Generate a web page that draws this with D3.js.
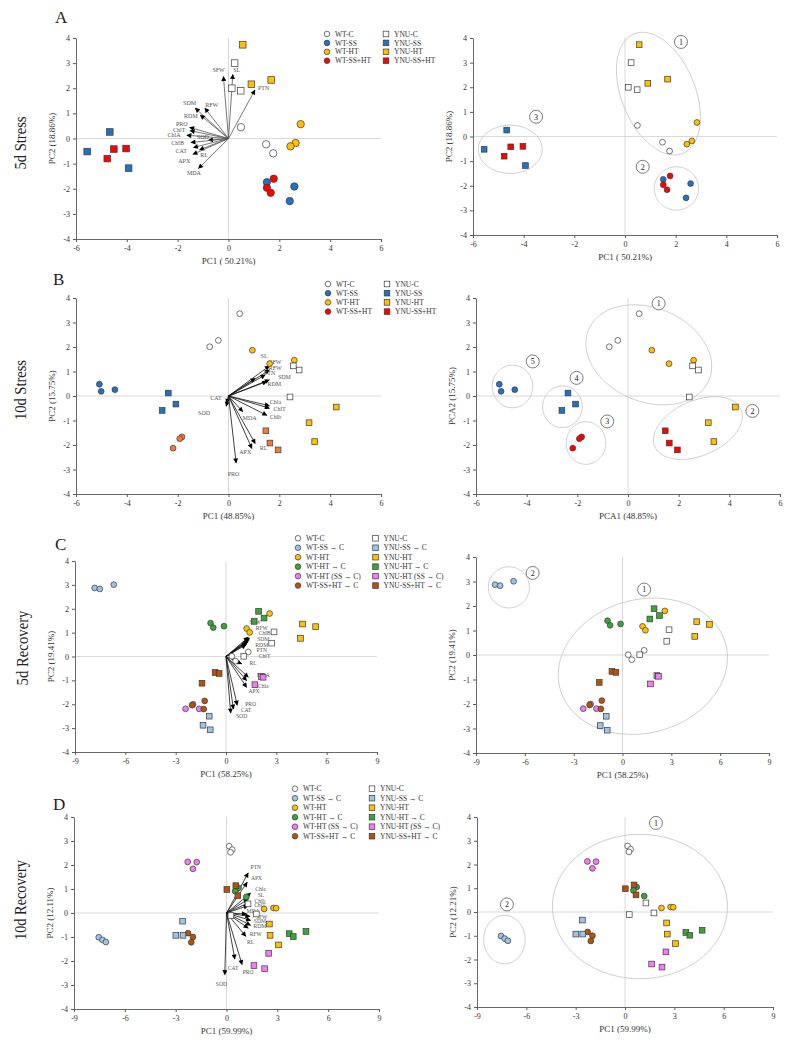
<!DOCTYPE html>
<html><head><meta charset="utf-8">
<script src="https://cdn.jsdelivr.net/npm/d3@7"></script>
<style>body{margin:0;background:#fff}svg{display:block}</style>
</head><body><svg id="c" width="790" height="1046"></svg>
<script>
// ---------------- DATA ----------------
const groupsStress = ["WT-C","WT-SS","WT-HT","WT-SS+HT","YNU-C","YNU-SS","YNU-HT","YNU-SS+HT"];
const groupsRecovery = ["WT-C","WT-SS \u2192 C","WT-HT","WT-HT \u2192 C","WT-HT (SS \u2192 C)","WT-SS+HT \u2192 C",
  "YNU-C","YNU-SS \u2192 C","YNU-HT","YNU-HT \u2192 C","YNU-HT (SS \u2192 C)","YNU-SS+HT \u2192 C"];
const xTicksStress = [-6,-4,-2,0,2,4,6];
const xTicksRecovery = [-9,-6,-3,0,3,6,9];
const yTicks = [-4,-3,-2,-1,0,1,2,3,4];
const rowLabels = ["5d Stress","10d Stress","5d Recovery","10d Recovery"];
const panelLetters = ["A","B","C","D"];

// [group, PC1, PC2]
const pointsA = [
 [0,0.49,0.45],[0,1.48,-0.23],[0,1.76,-0.59],
 [1,1.51,-1.74],[1,2.59,-1.91],[1,2.41,-2.49],
 [2,2.84,0.57],[2,2.64,-0.18],[2,2.44,-0.31],
 [3,1.78,-1.60],[3,1.51,-1.96],[3,1.66,-2.16],
 [4,0.24,3.00],[4,0.13,2.00],[4,0.48,1.90],
 [5,-4.67,0.26],[5,-5.56,-0.52],[5,-3.93,-1.18],
 [6,0.56,3.73],[6,0.90,2.16],[6,1.68,2.33],
 [7,-4.51,-0.42],[7,-4.03,-0.40],[7,-4.77,-0.80]];
const pointsB = [
 [0,0.44,3.36],[0,-0.40,2.27],[0,-0.74,2.01],
 [1,-5.08,0.48],[1,-5.01,0.19],[1,-4.47,0.26],
 [2,0.94,1.87],[2,1.62,1.32],[2,2.59,1.46],
 [3,-1.83,-1.67],[3,-1.92,-1.74],[3,-2.18,-2.13],
 [4,2.55,1.23],[4,2.78,1.06],[4,2.42,-0.04],
 [5,-2.37,0.12],[5,-2.07,-0.33],[5,-2.61,-0.59],
 [6,4.24,-0.45],[6,3.17,-1.09],[6,3.39,-1.86],
 [7,1.47,-1.42],[7,1.63,-1.92],[7,1.95,-2.20]];
const pointsC = [
 [0,0.35,0.01],[0,0.57,-0.19],[0,1.33,0.19],
 [1,-7.83,2.87],[1,-7.52,2.83],[1,-6.69,3.01],
 [2,2.60,1.80],[2,1.23,1.17],[2,1.41,1.01],
 [3,-0.92,1.40],[3,-0.76,1.21],[3,-0.12,1.27],
 [4,-2.41,-2.19],[4,-1.96,-2.00],[4,-1.60,-2.19],
 [5,-1.27,-1.86],[5,-2.02,-2.04],[5,-1.33,-2.20],
 [6,2.86,1.03],[6,2.72,0.56],[6,1.06,0.01],
 [7,-1.00,-2.50],[7,-1.37,-2.88],[7,-0.94,-3.07],
 [8,4.56,1.36],[8,5.34,1.25],[8,4.44,0.76],
 [9,1.94,1.89],[9,2.27,1.61],[9,1.68,1.47],
 [10,2.11,-0.84],[10,2.21,-0.87],[10,1.72,-1.18],
 [11,-0.65,-0.67],[11,-0.41,-0.71],[11,-1.43,-1.12]];
const pointsD = [
 [0,0.16,2.78],[0,0.34,2.64],[0,0.24,2.53],
 [1,-7.54,-1.01],[1,-7.32,-1.12],[1,-7.12,-1.21],
 [2,2.22,0.17],[2,2.77,0.21],[2,2.93,0.20],
 [3,0.71,1.05],[3,0.51,0.91],[3,1.17,0.67],
 [4,-2.29,2.13],[4,-1.76,2.12],[4,-1.98,1.84],
 [5,-2.27,-0.84],[5,-1.98,-1.00],[5,-2.08,-1.22],
 [6,1.27,0.38],[6,0.26,-0.11],[6,1.76,-0.04],
 [7,-2.59,-0.34],[7,-2.99,-0.93],[7,-2.57,-0.93],
 [8,2.53,-0.46],[8,2.57,-0.93],[8,3.07,-1.33],
 [9,3.70,-0.86],[9,3.94,-0.98],[9,4.69,-0.77],
 [10,2.49,-1.68],[10,1.62,-2.19],[10,2.25,-2.32],
 [11,0.02,0.98],[11,0.55,1.14],[11,0.67,0.72]];

// [variable, loading PC1, loading PC2, label PC1, label PC2]
const loadingsA = [
 ["SFW",-0.20,2.47,-0.39,2.73],["SL",0.17,2.55,0.32,2.75],["PTN",1.04,1.93,1.38,2.01],
 ["SDM",-1.31,1.21,-1.53,1.40],["RFW",-0.93,1.21,-0.66,1.35],["RDM",-1.11,0.93,-1.48,0.89],
 ["PRO",-1.53,0.44,-1.84,0.59],["ChlT",-1.51,0.31,-1.94,0.35],["ChlA",-1.64,0.13,-2.14,0.15],
 ["SOD",-0.79,-0.07,-1.01,0.07],["ChlB",-1.48,-0.16,-2.00,-0.16],["CAT",-1.38,-0.36,-1.86,-0.49],
 ["RL",-1.14,-0.45,-0.96,-0.65],["APX",-1.40,-0.63,-1.74,-0.89],["MDA",-1.18,-1.19,-1.36,-1.37]];
const loadingsB = [
 ["SL",1.05,0.72,1.40,1.64],["SFW",1.61,1.23,1.84,1.41],["RFW",1.61,1.06,1.84,1.13],
 ["PTN",1.44,0.86,1.62,0.93],["SDM",1.61,0.66,2.20,0.80],["RDM",1.51,0.59,1.80,0.49],
 ["Chla",1.61,-0.40,1.85,-0.23],["ChlT",1.61,-0.50,2.01,-0.53],["Chlb",1.51,-0.79,1.85,-0.87],
 ["MDA",0.56,-0.64,0.83,-0.91],["CAT",-0.07,-0.30,-0.49,-0.07],["SOD",-0.09,-0.42,-0.96,-0.67],
 ["RL",1.05,-1.94,1.38,-2.10],["APX",0.92,-2.14,0.66,-2.28],["PRO",0.30,-2.73,0.20,-3.18]];
const loadingsC = [
 ["SFW",1.33,0.81,1.73,1.46],["RFW",1.39,0.77,2.13,1.21],["ChlB",1.39,0.74,2.30,0.97],
 ["SDM",1.33,0.67,2.22,0.73],["RDM",1.27,0.60,2.13,0.49],["PTN",1.23,0.56,2.13,0.25],
 ["ChlT",1.19,0.49,2.30,0.02],["RL",0.93,-0.31,1.62,-0.26],["MDA",1.33,-0.87,2.22,-0.77],
 ["Chla",1.23,-1.01,2.22,-1.22],["APX",1.23,-1.29,1.67,-1.45],["PRO",0.67,-2.04,1.47,-1.99],
 ["CAT",0.44,-2.20,1.19,-2.26],["SOD",0.28,-2.37,0.93,-2.51]];
const loadingsD = [
 ["PTN",1.28,1.67,1.73,1.90],["APX",1.22,1.28,1.77,1.46],["Chla",1.42,0.83,2.01,1.00],
 ["SL",1.28,0.58,2.03,0.74],["Chlb",1.34,0.44,1.97,0.51],["ChlT",1.28,0.31,1.97,0.33],
 ["MDA",1.18,-0.04,1.57,0.07],["SFW",1.38,-0.14,2.07,-0.17],["SDM",1.42,-0.31,1.97,-0.35],
 ["RDM",1.42,-0.51,1.97,-0.56],["RFW",1.14,-0.97,1.73,-0.86],["RL",1.28,-0.63,1.42,-1.22],
 ["CAT",0.49,-1.92,0.39,-2.29],["PRO",0.92,-2.15,1.28,-2.46],["SOD",-0.10,-2.57,-0.30,-2.94]];

// cluster ellipses: [centre PC1, centre PC2, axis1 PC1, axis1 PC2, axis2 PC1, axis2 PC2]
const ellipsesA = [[1.32,1.74,0.96,-2.43,-1.35,-0.56],[2.03,-2.11,0.875,0,0,0.88],[-4.53,-0.52,1.26,0,0,0.98]];
const ellipsesB = [[0.82,1.68,2.38,-1.02,-0.71,-1.77],[2.76,-1.31,1.70,0.76,0.43,-1.03],
  [-1.66,-1.92,0.78,0,0,0.87],[-2.59,-0.44,0.78,0,0,0.85],[-4.56,0.39,0.80,0,0,0.87]];
const ellipsesC = [[1.25,-0.46,5.09,0.91,1.06,-2.63],[-6.98,2.76,1.26,0,0,0.84]];
const ellipsesD = [[0.91,0.23,5.32,0,0,3.04],[-7.33,-1.16,1.26,0,0,1.02]];
// cluster numbers: [label, PC1, PC2]
const clustersA = [["1",2.21,3.84],["2",0.70,-1.23],["3",-3.51,0.80]];
const clustersB = [["1",1.21,3.78],["2",4.91,-0.61],["3",-0.82,-1.04],["4",-2.03,0.74],["5",-3.76,1.41]];
const clustersC = [["1",1.33,2.67],["2",-5.52,3.35]];
const clustersD = [["1",1.88,3.75],["2",-7.18,0.32]];

const xTitles = [["PC1 ( 50.21%)","PC1 ( 50.21%)"],["PC1 (48.85%)","PCA1 (48.85%)"],["PC1 (58.25%)","PC1 (58.25%)"],["PC1 (59.99%)","PC1 (59.99%)"]];
const yTitles = [["PC2 (18.86%)","PC2 (18.86%)"],["PC2 (15.75%)","PCA2 (15.75%)"],["PC2 (19.41%)","PC2 (19.41%)"],["PC2 (12.11%)","PC2 (12.21%)"]];

// ---------------- STYLE ----------------
const FONT = "'Liberation Serif','Times New Roman',serif";
const colStress = ["#ffffff","#2272c3","#ffc000","#ff0000","#ffffff","#2272c3","#ffc000","#ff0000"];
const colStressB = ["#ffffff","#2272c3","#ffc000","#f47a3a","#ffffff","#2272c3","#ffc000","#f47a3a"];
const colRec = ["#ffffff","#9dc3e6","#ffc000","#3aa53a","#f57af5","#b4530f","#ffffff","#9dc3e6","#ffc000","#3aa53a","#f57af5","#b4530f"];

const svg = d3.select("#c");
svg.append("rect").attr("width",790).attr("height",1046).attr("fill","#fff");
const defs = svg.append("defs");
defs.append("marker").attr("id","ah").attr("viewBox","0 0 10 10").attr("refX",9).attr("refY",5)
  .attr("markerWidth",6).attr("markerHeight",5).attr("markerUnits","userSpaceOnUse").attr("orient","auto")
  .append("path").attr("d","M0,0L10,5L0,10z").attr("fill","#000");

function drawPanel(c) {
  const g = svg.append("g");
  const x = d3.scaleLinear().domain(d3.extent(c.xt)).range([c.x0, c.x1]);
  const y = d3.scaleLinear().domain(d3.extent(yTicks)).range([c.y1, c.y0]);
  g.append("line").attr("x1",x(0)).attr("x2",x(0)).attr("y1",c.y0).attr("y2",c.y1).attr("stroke","#d9d9d9").attr("stroke-width",1);
  g.append("line").attr("x1",c.x0).attr("x2",c.x1).attr("y1",y(0)).attr("y2",y(0)).attr("stroke","#d9d9d9").attr("stroke-width",1);
  const xa = g.append("g").attr("transform",`translate(0,${c.y1})`)
    .call(d3.axisBottom(x).tickValues(c.xt).tickFormat(d=>String(d)).tickSizeInner(3).tickSizeOuter(0).tickPadding(3));
  const ya = g.append("g").attr("transform",`translate(${c.x0},0)`)
    .call(d3.axisLeft(y).tickValues(yTicks).tickFormat(d=>String(d)).tickSizeInner(3).tickSizeOuter(0).tickPadding(3));
  [xa,ya].forEach(a=>{
    a.attr("font-family",FONT).attr("font-size",8);
    a.select(".domain").attr("stroke","#595959").attr("stroke-width",0.9);
    a.selectAll(".tick line").attr("stroke","#595959");
    a.selectAll(".tick text").attr("fill","#333");
  });
  g.append("text").attr("x",(c.x0+c.x1)/2).attr("y",c.y1+25).attr("text-anchor","middle")
    .attr("font-family",FONT).attr("font-size",9).attr("fill","#333").text(c.xTitle);
  g.append("text").attr("transform",`translate(${c.x0-21},${(c.y0+c.y1)/2}) rotate(-90)`).attr("text-anchor","middle")
    .attr("font-family",FONT).attr("font-size",9).attr("fill","#333").text(c.yTitle);
  if (c.ellipses) {
    const ts = d3.range(0, 101).map(i => i/100*2*Math.PI);
    const line = d3.line().x(p=>x(p[0])).y(p=>y(p[1]));
    c.ellipses.forEach(e=>{
      const pts = ts.map(t=>[e[0]+e[2]*Math.cos(t)+e[4]*Math.sin(t), e[1]+e[3]*Math.cos(t)+e[5]*Math.sin(t)]);
      g.append("path").attr("d",line(pts)).attr("fill","none").attr("stroke","#c8c8c8").attr("stroke-width",0.9);
    });
    c.clusters.forEach(k=>{
      g.append("circle").attr("cx",x(k[1])).attr("cy",y(k[2])).attr("r",6.5).attr("fill","#fff").attr("stroke","#444").attr("stroke-width",0.7);
      g.append("text").attr("x",x(k[1])).attr("y",y(k[2])).attr("dy","0.35em").attr("text-anchor","middle")
        .attr("font-family",FONT).attr("font-size",8).attr("fill","#222").text(k[0]);
    });
  }
  if (c.loadings) {
    c.loadings.forEach(l=>{
      g.append("line").attr("x1",x(0)).attr("y1",y(0)).attr("x2",x(l[1])).attr("y2",y(l[2]))
        .attr("stroke",c.arrowColor).attr("stroke-width",0.8).attr("marker-end","url(#ah)");
    });
    c.loadings.forEach(l=>{
      g.append("text").attr("x",x(l[3])).attr("y",y(l[4])).attr("dy","0.35em").attr("text-anchor","middle")
        .attr("font-family",FONT).attr("font-size",c.labelSize||6).attr("fill","#555").text(l[0]);
    });
  }
  const nHalf = c.colors.length/2;
  c.points.forEach(p=>{
    const col = c.colors[p[0]];
    if (p[0] < nHalf) {
      g.append("circle").attr("cx",x(p[1])).attr("cy",y(p[2])).attr("r",c.r)
        .attr("fill",col).attr("stroke","#3a3a3a").attr("stroke-width",0.7);
    } else {
      g.append("rect").attr("x",x(p[1])-c.s/2).attr("y",y(p[2])-c.s/2).attr("width",c.s).attr("height",c.s)
        .attr("fill",col).attr("stroke","#3a3a3a").attr("stroke-width",0.7);
    }
  });
}

function drawLegend(groups, colors, cx, sx, y0, dy) {
  const g = svg.append("g");
  const n = groups.length/2;
  groups.forEach((name,i)=>{
    const col = i < n ? 0 : 1;
    const row = i % n;
    const xx = col===0 ? cx : sx;
    const yy = y0 + row*dy;
    if (col===0) g.append("circle").attr("cx",xx).attr("cy",yy).attr("r",2.8).attr("fill",colors[i]).attr("stroke","#3a3a3a").attr("stroke-width",0.7);
    else g.append("rect").attr("x",xx-2.8).attr("y",yy-2.8).attr("width",5.6).attr("height",5.6).attr("fill",colors[i]).attr("stroke","#3a3a3a").attr("stroke-width",0.7);
    g.append("text").attr("x",xx+8).attr("y",yy).attr("dy","0.35em").attr("font-family",FONT).attr("font-size",7.5).attr("fill","#333").text(name);
  });
}

drawPanel({x0:76,x1:381,y0:38,y1:239,xt:xTicksStress,points:pointsA,colors:colStress,r:3.7,s:6.6,
  loadings:loadingsA,arrowColor:"#555",xTitle:xTitles[0][0],yTitle:yTitles[0][0]});
drawPanel({x0:473,x1:777,y0:38,y1:235,xt:xTicksStress,points:pointsA,colors:colStress,r:2.9,s:5.7,
  ellipses:ellipsesA,clusters:clustersA,xTitle:xTitles[0][1],yTitle:yTitles[0][1]});
drawLegend(groupsStress,colStress,327,386,34,8.9);
drawPanel({x0:76,x1:381,y0:298,y1:494,xt:xTicksStress,points:pointsB,colors:colStressB,r:2.9,s:5.7,
  loadings:loadingsB,arrowColor:"#111",xTitle:xTitles[1][0],yTitle:yTitles[1][0]});
drawPanel({x0:476,x1:780,y0:298,y1:494,xt:xTicksStress,points:pointsB,colors:colStress,r:2.9,s:5.7,
  ellipses:ellipsesB,clusters:clustersB,xTitle:xTitles[1][1],yTitle:yTitles[1][1]});
drawLegend(groupsStress,colStress,328,387,284,9.2);
drawPanel({x0:75,x1:377,y0:561,y1:752,xt:xTicksRecovery,points:pointsC,colors:colRec,r:2.9,s:5.7,
  loadings:loadingsC,arrowColor:"#111",labelSize:5.6,xTitle:xTitles[2][0],yTitle:yTitles[2][0]});
drawPanel({x0:476,x1:769,y0:557,y1:753,xt:xTicksRecovery,points:pointsC,colors:colRec,r:2.9,s:5.7,
  ellipses:ellipsesC,clusters:clustersC,xTitle:xTitles[2][1],yTitle:yTitles[2][1]});
drawLegend(groupsRecovery,colRec,298,375.5,538.3,9.45);
drawPanel({x0:74,x1:379,y0:817,y1:1009,xt:xTicksRecovery,points:pointsD,colors:colRec,r:2.9,s:5.7,
  loadings:loadingsD,arrowColor:"#111",labelSize:5.6,xTitle:xTitles[3][0],yTitle:yTitles[3][0]});
drawPanel({x0:477,x1:773,y0:817,y1:1007,xt:xTicksRecovery,points:pointsD,colors:colRec,r:2.9,s:5.7,
  ellipses:ellipsesD,clusters:clustersD,xTitle:xTitles[3][1],yTitle:yTitles[3][1]});
drawLegend(groupsRecovery,colRec,295,372,788.7,9.5);

const rowPos = [[20,143,53],[20,390,60],[22,648,75],[20,900,80]];
rowLabels.forEach((t,i)=>{
  svg.append("text").attr("transform",`translate(${rowPos[i][0]+6},${rowPos[i][1]}) rotate(-90)`)
    .attr("text-anchor","middle").attr("font-family",FONT).attr("font-size",16).attr("fill","#222")
    .attr("textLength",rowPos[i][2]).attr("lengthAdjust","spacingAndGlyphs").text(t);
});
const letterPos = [[55,23],[53,285],[55,550],[53,810]];
panelLetters.forEach((t,i)=>{
  svg.append("text").attr("x",letterPos[i][0]).attr("y",letterPos[i][1]).attr("font-family",FONT)
    .attr("font-size",17).attr("fill","#222").text(t);
});
</script></body></html>
